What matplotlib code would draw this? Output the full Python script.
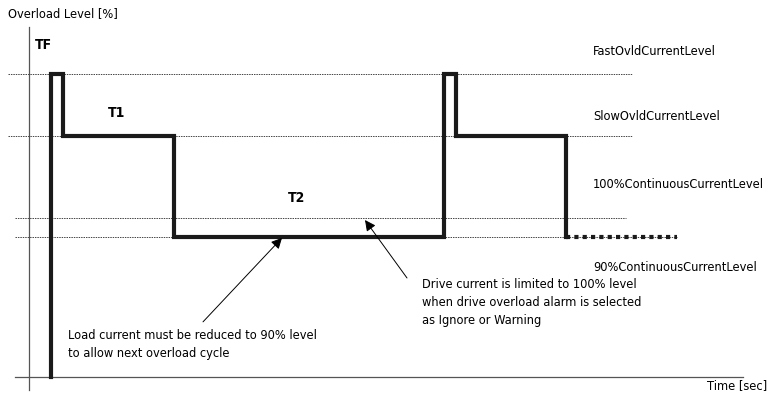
import matplotlib.pyplot as plt

plt.rcParams['font.family'] = ['DejaVu Sans']
plt.rcParams['font.stretch'] = 'condensed'

# Профиль тока перегрузки (время в условных единицах, уровень в %)
base_level = 16.3
fast_level = 176
slow_level = 143
cont100_level = 100
cont90_level = 90

profile_t = [2.2, 2.2, 3.4, 3.4, 14.5, 14.5, 41.5, 41.5, 42.7, 42.7, 53.7, 53.7]
profile_lvl = [base_level, fast_level, fast_level, slow_level, slow_level, cont90_level,
               cont90_level, fast_level, fast_level, slow_level, slow_level, cont90_level]
tail_t = [53.7, 64.8]

# Пунктирные уровни: (уровень, начало, конец)
level_lines = [
    (fast_level, -2.1, 60.3),
    (slow_level, -2.1, 60.3),
    (cont100_level, -1.4, 59.7),
    (cont90_level, -1.4, 64.8),
]
level_names = ['FastOvldCurrentLevel', 'SlowOvldCurrentLevel',
               '100%ContinuousCurrentLevel', '90%ContinuousCurrentLevel']
level_label_y = [187.4, 153.2, 117.4, 73.7]

fig = plt.figure(figsize=(7.73, 4.03), dpi=100)
ax = fig.add_axes([0, 0, 1, 1])
ax.set_xlim(-2.9, 74.4)
ax.set_ylim(2.6, 214.7)
ax.axis('off')

# Оси
ax.plot([0, 0], [9.5, 200.5], color='#555555', lw=0.9)
ax.plot([-1.4, 71.4], [base_level, base_level], color='#555555', lw=0.9)

# Уровни
for lvl, x0, x1 in level_lines:
    ax.plot([x0, x1], [lvl, lvl], color='#444444', lw=0.7, linestyle=(0, (1.5, 1)))

# Ток
ax.plot(profile_t, profile_lvl, color='#1a1a1a', lw=3, solid_joinstyle='miter')
ax.plot(tail_t, [cont90_level, cont90_level], color='#1a1a1a', lw=3,
        linestyle=(0, (1, 1)))

fs = 9.2
ax.text(-2.1, 207.4, 'Overload Level [%]', fontsize=fs, va='center', ha='left')
ax.text(73.8, 11.6, 'Time [sec]', fontsize=fs, va='center', ha='right')
ax.text(1.4, 191, 'TF', fontsize=fs + 0.8, fontweight='bold', ha='center', va='center')
ax.text(8.8, 155, 'T1', fontsize=fs + 0.8, fontweight='bold', ha='center', va='center')
ax.text(26.8, 110.5, 'T2', fontsize=fs + 0.8, fontweight='bold', ha='center', va='center')

for name, y in zip(level_names, level_label_y):
    ax.text(56.4, y, name, fontsize=fs, va='center', ha='left')

ax.text(39.3, 68.3, 'Drive current is limited to 100% level\n'
        'when drive overload alarm is selected\nas Ignore or Warning',
        fontsize=fs, va='top', ha='left', linespacing=1.5)
ax.text(3.9, 41.5, 'Load current must be reduced to 90% level\n'
        'to allow next overload cycle',
        fontsize=fs, va='top', ha='left', linespacing=1.5)

# Стрелки
ax.annotate('', xy=(25.3, 89.5), xytext=(17.4, 45.3),
            arrowprops=dict(arrowstyle='-|>', color='black', lw=0.7,
                            mutation_scale=16, shrinkA=0, shrinkB=0))
ax.annotate('', xy=(33.6, 98.9), xytext=(37.8, 68.4),
            arrowprops=dict(arrowstyle='-|>', color='black', lw=0.7,
                            mutation_scale=16, shrinkA=0, shrinkB=0))

fig.savefig('out.png', dpi=100)
